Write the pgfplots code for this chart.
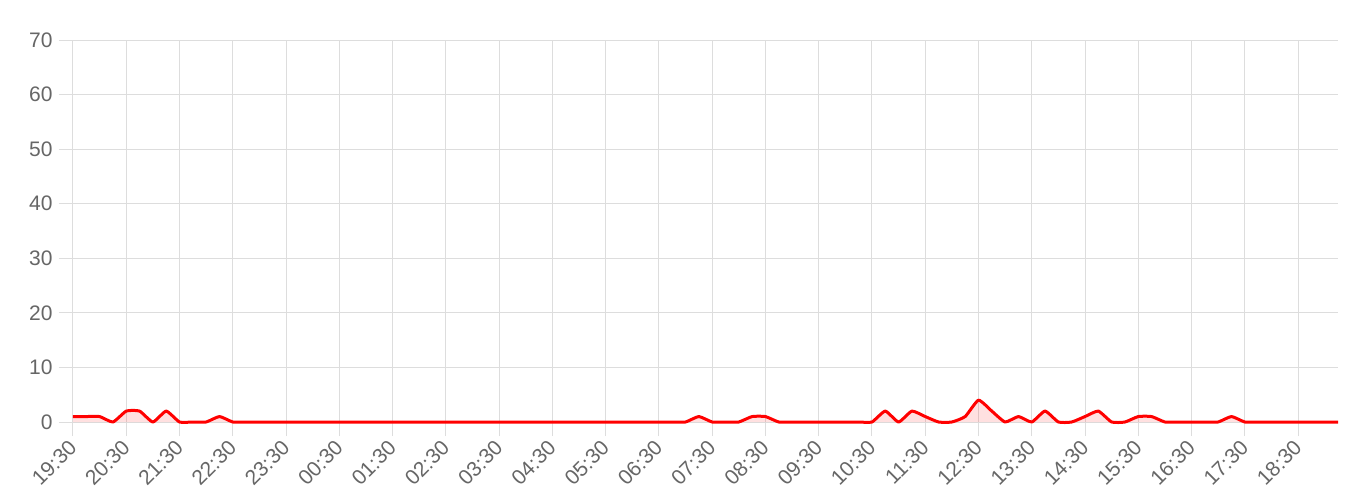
\documentclass[border=0pt]{standalone}
\usepackage{pgfplots}
\usepackage{pgfplotstable}
\pgfplotsset{compat=1.18}
\usepackage{fontspec}
\setmainfont{Liberation Sans}
\definecolor{labelgray}{HTML}{666666}
\definecolor{gridgray}{HTML}{DDDDDD}

% hours after 19:30, one row per quarter hour
\pgfplotstableread{
t     n
0.00  1
0.25  1
0.50  1
0.75  0
1.00  2
1.25  2
1.50  0
1.75  2
2.00  0
2.25  0
2.50  0
2.75  1
3.00  0
3.25  0
3.50  0
3.75  0
4.00  0
4.25  0
4.50  0
4.75  0
5.00  0
5.25  0
5.50  0
5.75  0
6.00  0
6.25  0
6.50  0
6.75  0
7.00  0
7.25  0
7.50  0
7.75  0
8.00  0
8.25  0
8.50  0
8.75  0
9.00  0
9.25  0
9.50  0
9.75  0
10.00 0
10.25 0
10.50 0
10.75 0
11.00 0
11.25 0
11.50 0
11.75 1
12.00 0
12.25 0
12.50 0
12.75 1
13.00 1
13.25 0
13.50 0
13.75 0
14.00 0
14.25 0
14.50 0
14.75 0
15.00 0
15.25 2
15.50 0
15.75 2
16.00 1
16.25 0
16.50 0
16.75 1
17.00 4
17.25 2
17.50 0
17.75 1
18.00 0
18.25 2
18.50 0
18.75 0
19.00 1
19.25 2
19.50 0
19.75 0
20.00 1
20.25 1
20.50 0
20.75 0
21.00 0
21.25 0
21.50 0
21.75 1
22.00 0
22.25 0
22.50 0
22.75 0
23.00 0
23.25 0
23.50 0
23.75 0
}\counts

\begin{document}
\begin{tikzpicture}
\useasboundingbox (-36.5pt,-40.5pt) rectangle (643.5pt,211pt);
\begin{axis}[
  scale only axis, width=632.5pt, height=191pt,
  xmin=0, xmax=23.75, ymin=0, ymax=70,
  xtick={0,...,23},
  xticklabels={19:30,20:30,21:30,22:30,23:30,00:30,01:30,02:30,03:30,04:30,05:30,06:30,07:30,08:30,09:30,10:30,11:30,12:30,13:30,14:30,15:30,16:30,17:30,18:30},
  ytick={0,10,...,70},
  axis x line*=bottom, axis y line*=left,
  axis line style={gridgray, line width=0.5pt},
  grid=major, major grid style={gridgray, line width=0.5pt},
  xtick align=outside, ytick align=outside,
  major tick length=7pt,
  xtick style={draw=gridgray, line width=0.5pt},
  ytick style={draw=gridgray, line width=0.5pt},
  ticklabel style={font=\fontsize{10.5}{12}\selectfont, text=labelgray},
  yticklabel style={anchor=east, inner sep=0pt, xshift=-3pt},
  xticklabel style={anchor=east, inner sep=0pt, yshift=-4pt, rotate=45},
  /pgf/number format/assume math mode=true,
  clip=false,
]
\addplot[draw=none, fill=red, fill opacity=0.12, smooth, tension=0.3] table[x=t, y=n] {\counts} \closedcycle;
\addplot[red, line width=1.5pt, smooth, tension=0.3, line join=round] table[x=t, y=n] {\counts};
\end{axis}
\end{tikzpicture}
\end{document}
